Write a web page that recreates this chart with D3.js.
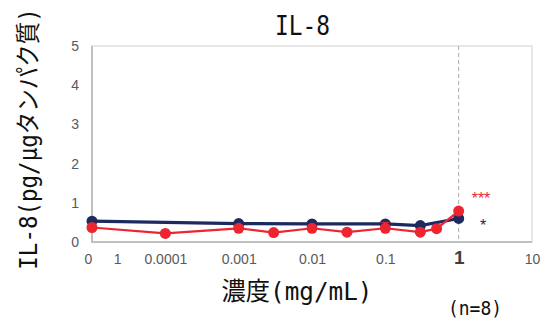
<!DOCTYPE html>
<html><head><meta charset="utf-8">
<script src="https://cdn.jsdelivr.net/npm/d3@7"></script>
<style>body{margin:0;background:#fff}svg{display:block}</style>
</head><body>
<svg id="c" width="547" height="322"></svg>
<script>
// Data
const navyX = [0.00001, 0.001, 0.01, 0.1, 0.3, 1];
const navyY = [0.53, 0.47, 0.46, 0.46, 0.42, 0.60];
const redX = [0.00001, 0.0001, 0.001, 0.003, 0.01, 0.03, 0.1, 0.3, 0.5, 1];
const redY = [0.37, 0.22, 0.35, 0.24, 0.35, 0.25, 0.35, 0.25, 0.34, 0.79];
const redErr = [0, 0, 0, 0, 0, 0, 0.15, 0, 0, 0.05];
const xTickVals = [0.0000088, 0.000022, 0.0001, 0.001, 0.01, 0.1, 1, 10];
const xTickLabels = ["0", "1", "0.0001", "0.001", "0.01", "0.1", "1", "10"];
const yTicks = [0, 1, 2, 3, 4, 5];

const svg = d3.select("#c");
const L = 92, R = 532, T = 46, B = 242;
const x = d3.scaleLog().domain([1e-5, 10]).range([L, R]);
const y = d3.scaleLinear().domain([0, 5]).range([B, T]);

// frame
svg.append("rect").attr("x", L).attr("y", T).attr("width", R - L).attr("height", B - T)
  .attr("fill", "none").attr("stroke", "#d0d0d0").attr("stroke-width", 1);
svg.append("line").attr("x1", L).attr("x2", L).attr("y1", T).attr("y2", B + 1)
  .attr("stroke", "#bfbfbf").attr("stroke-width", 2);
svg.append("line").attr("x1", L - 1).attr("x2", R).attr("y1", B).attr("y2", B)
  .attr("stroke", "#bfbfbf").attr("stroke-width", 2);

// dashed line at 1
svg.append("line").attr("x1", x(1)).attr("x2", x(1)).attr("y1", T).attr("y2", B)
  .attr("stroke", "#aaa").attr("stroke-width", 1).attr("stroke-dasharray", "4,3");

// y axis
const yAxis = d3.axisLeft(y).tickValues(yTicks).tickFormat(d3.format("d")).tickSize(0).tickPadding(0);
const gy = svg.append("g").attr("transform", `translate(${L - 13},0)`).call(yAxis);
gy.select(".domain").remove();
gy.selectAll("text").attr("font-family", "Liberation Sans, Arial, sans-serif")
  .attr("font-size", 14).attr("fill", "#595959");

// x axis
const xAxis = d3.axisBottom(x).tickValues(xTickVals).tickFormat((d, i) => xTickLabels[i]).tickSize(0).tickPadding(0);
const gx = svg.append("g").attr("transform", `translate(0,${B + 12})`).call(xAxis);
gx.select(".domain").remove();
gx.selectAll("text").attr("font-family", "Liberation Sans, Arial, sans-serif")
  .attr("font-size", 14).attr("fill", "#595959").attr("dy", "0.71em")
  .each(function (d, i) {
    if (i === 6) d3.select(this).attr("font-size", 19).attr("font-weight", "bold").attr("fill", "#404040").attr("dy", "0.55em");
  });

// series
const line = d3.line().x(d => x(d[0])).y(d => y(d[1]));
const navy = "#1c2a5f", red = "#ec2530";
const navyD = navyX.map((v, i) => [v, navyY[i]]);
const redD = redX.map((v, i) => [v, redY[i]]);

svg.append("path").datum(navyD).attr("d", line).attr("fill", "none").attr("stroke", navy).attr("stroke-width", 3.2);
svg.selectAll(".nd").data(navyD).enter().append("circle").attr("cx", d => x(d[0])).attr("cy", d => y(d[1])).attr("r", 5.5).attr("fill", navy);

// red error bars
redD.forEach((d, i) => {
  if (redErr[i] > 0) {
    svg.append("line").attr("x1", x(d[0])).attr("x2", x(d[0])).attr("y1", y(d[1])).attr("y2", y(d[1] + redErr[i])).attr("stroke", red).attr("stroke-width", 1);
    svg.append("line").attr("x1", x(d[0]) - 4).attr("x2", x(d[0]) + 4).attr("y1", y(d[1] + redErr[i])).attr("y2", y(d[1] + redErr[i])).attr("stroke", red).attr("stroke-width", 1);
  }
});
svg.append("path").datum(redD).attr("d", line).attr("fill", "none").attr("stroke", red).attr("stroke-width", 2.2);
svg.selectAll(".rd").data(redD).enter().append("circle").attr("cx", d => x(d[0])).attr("cy", d => y(d[1])).attr("r", 5.5).attr("fill", red);

// significance
svg.append("text").attr("x", 481).attr("y", 204).attr("text-anchor", "middle").attr("font-family", "Liberation Sans, Arial, sans-serif")
  .attr("font-size", 16).attr("fill", red).text("***");
svg.append("text").attr("x", 483).attr("y", 231).attr("text-anchor", "middle").attr("font-family", "Liberation Sans, Arial, sans-serif")
  .attr("font-size", 16).attr("fill", navy).text("*");

// titles
const jf = "DejaVu Sans Mono, Noto Sans CJK JP, monospace";
function ttl(txt, xx, yy, fs, len) {
  return svg.append("text").attr("font-family", jf).attr("font-size", fs).attr("fill", "#111")
    .attr("textLength", len).attr("lengthAdjust", "spacingAndGlyphs").text(txt)
    .attr("x", xx - len / 2).attr("y", yy);
}
ttl("IL-8", 302.5, 35, 27, 55);
svg.append("text").attr("font-family", jf).attr("font-size", 22.5).attr("fill", "#111")
  .attr("text-anchor", "middle")
  .attr("transform", "translate(37,139) rotate(-90) scale(1,1.1)")
  .text("IL-8(pg/μgタンパク質)");
ttl("濃度(mg/mL)", 297, 300, 25, 151);
ttl("(n=8)", 475, 315, 20, 54);
</script>
</body></html>
